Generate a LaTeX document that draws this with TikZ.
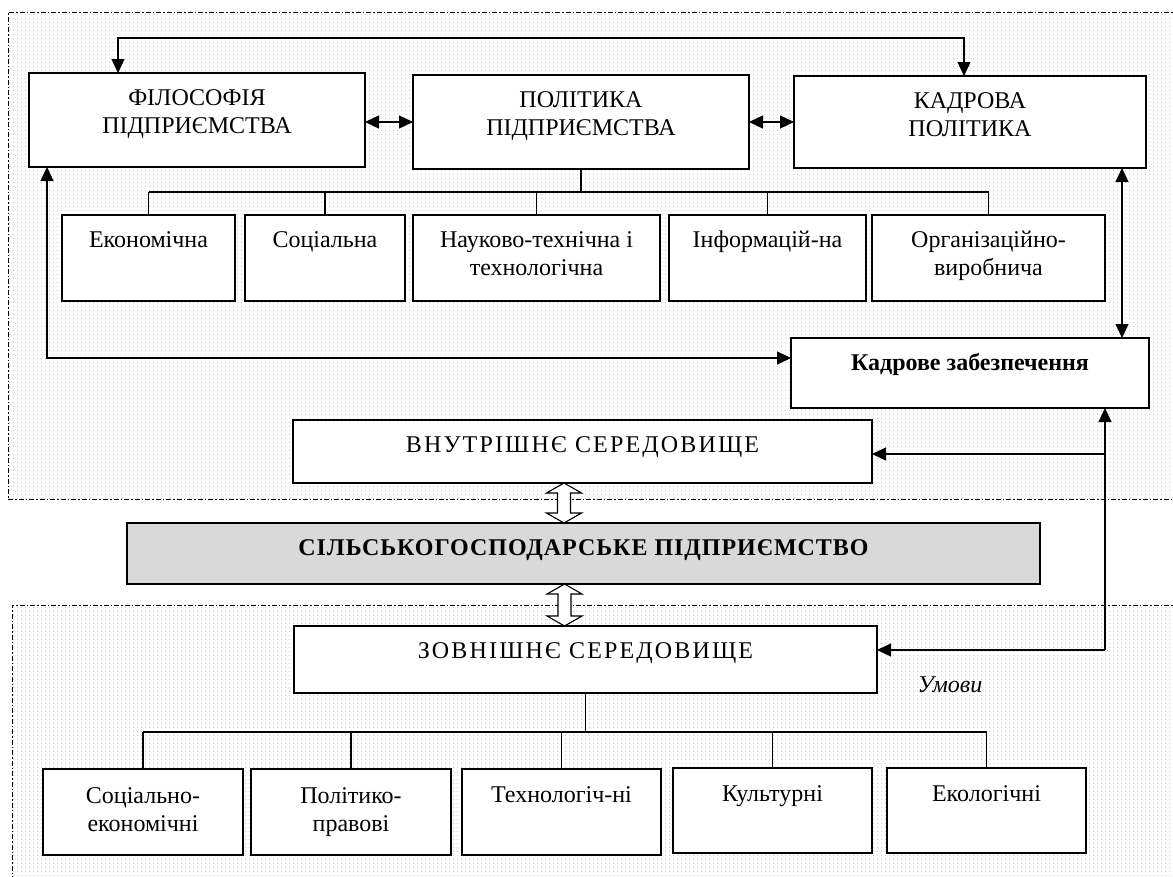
\documentclass[tikz,border=0pt]{standalone}
\usepackage{fontspec}
\setmainfont{Liberation Serif}
\usetikzlibrary{arrows.meta,patterns.meta,calc}

\pgfdeclarepattern{
  name=finedots,
  type=uncolored,
  bottom left={\pgfpoint{0pt}{0pt}},
  top right={\pgfpoint{4pt}{4pt}},
  tile size={\pgfpoint{4pt}{4pt}},
  code={\pgfpathcircle{\pgfpoint{2pt}{2pt}}{0.8pt}\pgfusepath{fill}}
}

\newcommand\mkbox[6][bx]{\node[#1, minimum width={#5-#3}, minimum height={#6-#4}] (#2) at (#3,#4) {};}
\newcommand\two[2]{\begin{tabular}[t]{@{}c@{}}#1\\#2\end{tabular}}

\begin{document}
\begin{tikzpicture}[x=1pt,y=-1pt,
  bx/.style={draw, line width=1.4pt, fill=white, inner sep=0pt, outer sep=0pt, anchor=north west},
  sbx/.style={bx, line width=1.2pt},
  graybx/.style={bx, fill=gray!30},
  txt/.style={anchor=base, inner sep=0pt, font=\fontsize{24}{28}\selectfont},
  conn/.style={line width=1.3pt},
  tri/.style={conn, -{Triangle[length=14pt,width=13pt]}},
  bitri/.style={conn, {Triangle[length=14pt,width=13pt]}-{Triangle[length=14pt,width=13pt]}},
  region/.style={pattern=finedots, pattern color=gray!40},
  regionline/.style={line width=0.9pt, dash pattern=on 5pt off 2pt on 1.5pt off 2pt},
  hollow/.style={draw, fill=white, line width=1.1pt},
]
\useasboundingbox (0,0) rectangle (1173,876);

% regions
\begin{scope}
\clip (0,0) rectangle (1173,876);
\fill[region] (8,12) rectangle (1190,499);
\draw[regionline] (1190,12) -- (8,12) -- (8,499) -- (1190,499);
\fill[region] (12,605) rectangle (1190,890);
\draw[regionline] (1190,605) -- (12,605) -- (12,890);
\end{scope}

% top boxes
\mkbox{fil}{29}{73}{365}{167}
\mkbox{pol}{413}{75}{749}{169}
\mkbox{kp}{794}{76}{1146}{168}
\node[txt] (fil-t) at ([yshift=-32pt]fil.north) {\two{ФІЛОСОФІЯ}{ПІДПРИЄМСТВА}};
\node[txt] (pol-t) at ([yshift=-32pt]pol.north) {\two{ПОЛІТИКА}{ПІДПРИЄМСТВА}};
\node[txt] (kp-t) at ([yshift=-32pt]kp.north) {\two{КАДРОВА}{ПОЛІТИКА}};

% policy sub-boxes
\mkbox[sbx]{s1}{62}{215}{235}{301}
\mkbox[sbx]{s2}{245}{215}{405}{301}
\mkbox[sbx]{s3}{413}{215}{660}{301}
\mkbox[sbx]{s4}{669}{215}{866}{301}
\mkbox[sbx]{s5}{872}{215}{1105}{301}
\node[txt] (s1-t) at ([yshift=-32pt]s1.north) {Економічна};
\node[txt] (s2-t) at ([yshift=-32pt]s2.north) {Соціальна};
\node[txt] (s3-t) at ([yshift=-32pt]s3.north) {\two{Науково-технічна і}{технологічна}};
\node[txt] (s4-t) at ([yshift=-32pt]s4.north) {Інформацій-на};
\node[txt] (s5-t) at ([yshift=-32pt]s5.north) {\two{Організаційно-}{виробнича}};

% staffing
\mkbox{kz}{791}{338}{1149}{408}
\node[txt, font=\fontsize{24}{28}\selectfont\bfseries] (kz-t) at ([yshift=-32pt]kz.north) {Кадрове забезпечення};

% environments
\mkbox{vn}{293}{420}{872}{483}
\node[txt] (vn-t) at ([yshift=-32pt]vn.north) {\addfontfeature{LetterSpace=9}ВНУТРІШНЄ СЕРЕДОВИЩЕ};
\mkbox[graybx]{sg}{127}{523}{1040}{584}
\node[txt, font=\fontsize{24}{28}\selectfont\bfseries] (sg-t) at ([yshift=-32pt]sg.north) {\addfontfeature{LetterSpace=4}СІЛЬСЬКОГОСПОДАРСЬКЕ ПІДПРИЄМСТВО};
\mkbox{zn}{294}{626}{877}{693}
\node[txt] (zn-t) at ([yshift=-32pt]zn.north) {\addfontfeature{LetterSpace=9}ЗОВНІШНЄ СЕРЕДОВИЩЕ};
\node[txt, font=\fontsize{24}{28}\selectfont\itshape] (umovy) at (950,692) {Умови};

% bottom boxes
\mkbox[sbx]{b1}{43}{769}{243}{855}
\mkbox[sbx]{b2}{251}{769}{451}{855}
\mkbox[sbx]{b3}{462}{769}{661}{855}
\mkbox[sbx]{b4}{673}{768}{872}{853}
\mkbox[sbx]{b5}{887}{768}{1086}{853}
\node[txt] (b1-t) at ([yshift=-34pt]b1.north) {\two{Соціально-}{економічні}};
\node[txt] (b2-t) at ([yshift=-34pt]b2.north) {\two{Політико-}{правові}};
\node[txt] (b3-t) at ([yshift=-33pt]b3.north) {Технологіч-ні};
\node[txt] (b4-t) at ([yshift=-33pt]b4.north) {Культурні};
\node[txt] (b5-t) at ([yshift=-33pt]b5.north) {Екологічні};

% connectors: top
\draw[bitri] ([xshift=89pt]fil.north west) -- ++(0,-35) -| ([xshift=170pt]kp.north west);
\coordinate (a1) at ([yshift=-49pt]fil.north east);
\draw[bitri] (a1) -- (a1 -| pol.west);
\coordinate (a2) at ([yshift=-47pt]pol.north east);
\draw[bitri] (a2) -- (a2 -| kp.west);

% policy tree
\coordinate (pb) at ([yshift=-23pt]pol.south);
\draw[conn] (pol.south) -- (pb);
\draw[conn] (pb -| s1.north) -- (pb -| s5.north);
\foreach \s in {s1,s2,s3,s4,s5} \draw[conn] (pb -| \s.north) -- (\s.north);

% kadrova <-> kadrove
\coordinate (c5) at ([xshift=-24pt]kp.south east);
\draw[bitri] (c5) -- (c5 |- kz.north);

% filosofiya <-> kadrove
\coordinate (c6) at ([yshift=-20pt]kz.north west);
\draw[bitri] ([xshift=18pt]fil.south west) |- (c6);

% right loop
\coordinate (r1) at ([xshift=-44pt]kz.south east);
\coordinate (r3) at ([yshift=-24pt]zn.north east);
\coordinate (r4) at ([yshift=-34pt]vn.north east);
\draw[tri] (r3 -| r1) -- (r1);
\draw[tri] (r4 -| r1) -- (r4);
\draw[tri] (r3 -| r1) -- (r3);

% external tree
\coordinate (zb) at ([yshift=-39pt]zn.south);
\draw[conn] (zn.south) -- (zb);
\draw[conn] (zb -| b1.north) -- (zb -| b5.north);
\foreach \b in {b1,b2,b3,b4,b5} \draw[conn] (zb -| \b.north) -- (\b.north);

% hollow double arrows
\coordinate (h1) at ([xshift=-18.5pt]vn.south);
\coordinate (h1b) at (h1 |- sg.north);
\draw[hollow] (h1) -- ++(17.5,10) -- ++(-11,0) -- ($(h1b)+(6.5,-10)$) -- ++(11,0) -- (h1b)
  -- ++(-17.5,-10) -- ++(11,0) -- ($(h1)+(-6.5,10)$) -- ++(-11,0) -- cycle;
\coordinate (h2) at ([xshift=-19pt]sg.south);
\coordinate (h2b) at (h2 |- zn.north);
\draw[hollow] (h2) -- ++(17.5,10) -- ++(-11,0) -- ($(h2b)+(6.5,-10)$) -- ++(11,0) -- (h2b)
  -- ++(-17.5,-10) -- ++(11,0) -- ($(h2)+(-6.5,10)$) -- ++(-11,0) -- cycle;
\end{tikzpicture}
\end{document}
